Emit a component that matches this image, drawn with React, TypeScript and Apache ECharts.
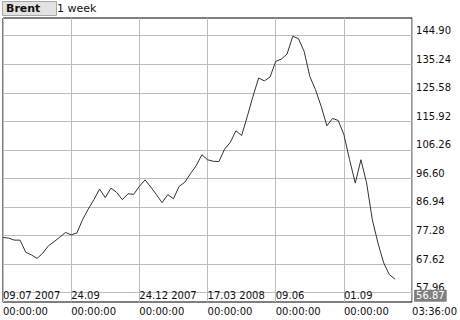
import React, { useEffect, useRef } from "react";
import * as echarts from "echarts";

// Weekly Brent closes (USD/bbl)
const prices: number[] = [
  76.6, 76.4, 75.7, 75.7, 71.6, 70.7, 69.5, 71.3, 73.8, 75.2,
  76.7, 78.3, 77.5, 78.1, 82.6, 86.2, 89.4, 93.0, 90.1, 93.3,
  91.9, 89.4, 91.4, 91.2, 93.9, 96.1, 93.7, 91.1, 88.4, 91.1,
  89.7, 93.9, 95.3, 98.2, 100.9, 104.6, 102.9, 102.4, 102.3, 106.5,
  108.8, 112.7, 111.1, 117.6, 124.4, 130.6, 129.6, 130.9, 136.2, 137.0,
  138.7, 144.7, 143.9, 139.6, 131.1, 126.6, 121.0, 114.4, 116.9, 116.2,
  111.4, 102.9, 95.0, 102.9, 95.0, 82.6, 74.7, 68.0, 64.0, 62.5,
];

const xTickDates: string[] = ["09.07 2007", "24.09", "24.12 2007", "17.03 2008", "09.06", "01.09", ""];
const xTickTimes: string[] = ["00:00:00", "00:00:00", "00:00:00", "00:00:00", "00:00:00", "00:00:00", "03:36:00"];
const yTicks: number[] = [57.96, 67.62, 77.28, 86.94, 96.6, 106.26, 115.92, 125.58, 135.24, 144.9];

const yMin = 54.76;
const yMax = 150.89;
const xMax = 72;
const xStep = 12;
const lastPrice = 56.87;
const instrument = "Brent";
const period = "1 week";

const FONT = "DejaVu Sans";

export default function App() {
  const ref = useRef<HTMLDivElement>(null);

  useEffect(() => {
    if (!ref.current) return;
    const chart = echarts.init(ref.current, null, { renderer: "svg" });
    const seriesData = prices.map((v, i) => [i, v]);

    chart.setOption({
      animation: false,
      backgroundColor: "#ffffff",
      textStyle: { fontFamily: FONT },
      title: [
        {
          text: instrument,
          left: 2,
          top: 1,
          padding: [1, 16, 1, 4],
          backgroundColor: "#e2e2e2",
          borderColor: "#a8a8a8",
          borderWidth: 1,
          textStyle: { fontFamily: FONT, fontSize: 11, fontWeight: "bold", color: "#111", lineHeight: 13 },
        },
        {
          text: period,
          left: 57,
          top: 1,
          padding: [1, 0, 1, 0],
          textStyle: { fontFamily: FONT, fontSize: 11, fontWeight: "normal", color: "#111", lineHeight: 13 },
        },
      ],
      grid: {
        left: 3,
        right: 44,
        top: 18,
        bottom: 18,
        show: true,
        borderColor: "#000",
        borderWidth: 1,
        backgroundColor: "transparent",
      },
      xAxis: {
        type: "value",
        min: 0,
        max: xMax,
        interval: xStep,
        axisLine: { show: false },
        axisTick: { show: false },
        splitLine: { show: true, lineStyle: { color: "#bdbdbd", width: 1 } },
        axisLabel: {
          show: true,
          showMinLabel: true,
          showMaxLabel: true,
          align: "left",
          verticalAlign: "top",
          margin: -15,
          lineHeight: 16.5,
          fontFamily: FONT,
          fontSize: 10,
          color: "#111",
          formatter: (v: number) => {
            const k = Math.round(v / xStep);
            return (xTickDates[k] ?? "") + "\n" + (xTickTimes[k] ?? "");
          },
        },
      },
      yAxis: {
        type: "value",
        position: "right",
        min: yMin,
        max: yMax,
        axisLine: { show: false },
        axisTick: { show: false, customValues: yTicks },
        splitLine: { show: true, lineStyle: { color: "#bdbdbd", width: 1 } },
        axisLabel: {
          customValues: yTicks,
          margin: 4,
          verticalAlign: "bottom",
          lineHeight: 10,
          fontFamily: FONT,
          fontSize: 10,
          color: "#111",
          formatter: (v: number) => v.toFixed(2),
        },
      },
      series: [
        {
          type: "line",
          data: seriesData,
          showSymbol: false,
          symbol: "none",
          lineStyle: { color: "#333", width: 1 },
          markLine: {
            silent: true,
            symbol: ["none", "none"],
            lineStyle: { color: "transparent", width: 0 },
            label: {
              show: true,
              position: "end",
              distance: 2,
              formatter: () => lastPrice.toFixed(2),
              backgroundColor: "#808080",
              color: "#ffffff",
              fontFamily: FONT,
              fontSize: 10,
              padding: [1, 2, 1, 2],
            },
            data: [{ yAxis: lastPrice }],
          },
        },
      ],
    });

    return () => chart.dispose();
  }, []);

  return (
    <div
      ref={ref}
      style={{ position: "fixed", left: 0, top: 0, width: 460, height: 320, background: "#fff" }}
    />
  );
}
